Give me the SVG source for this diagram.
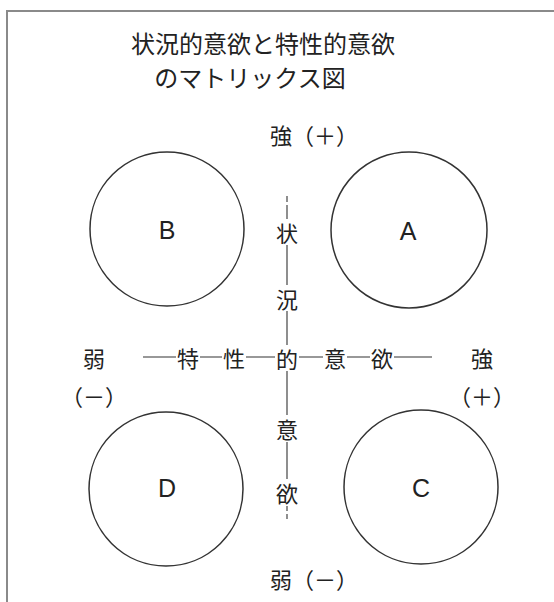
<svg xmlns="http://www.w3.org/2000/svg" width="554" height="602" viewBox="0 0 554 602">
<style>
.jp{font-family:"Noto Sans CJK JP","Noto Sans",sans-serif;fill:#222;text-anchor:middle;dominant-baseline:central}
.ttl{font-size:24px}
.ax{font-size:22px}
.lab{font-family:"Liberation Sans",Arial,sans-serif;font-size:25px;fill:#222;text-anchor:middle;dominant-baseline:central}
.circ{fill:none;stroke:#333;stroke-width:1.5}
.ln{stroke:#333;stroke-width:1.1;fill:none}
.frame{stroke:#8a8a8a;stroke-width:2;fill:none}
</style>
<rect width="554" height="602" fill="#fff"/>
<path class="frame" d="M7,602 V11 H554"/>
<g id="title">
<text class="jp ttl" x="263" y="42">状況的意欲と特性的意欲</text>
<text class="jp ttl" x="250" y="76">のマトリックス図</text>
</g>
<g id="labels">
<text class="jp ax" x="314" y="134">強（＋）</text>
<text class="jp ax" x="314" y="578">弱（－）</text>
<text class="jp ax" x="94" y="357">弱</text>
<text class="jp ax" x="94" y="395">（－）</text>
<text class="jp ax" x="482" y="357">強</text>
<text class="jp ax" x="482" y="395">（＋）</text>
</g>
<g id="node-B"><circle class="circ" cx="167" cy="229" r="77"/><text class="lab" x="167" y="230">B</text></g>
<g id="node-A"><circle class="circ" cx="409" cy="230" r="78"/><text class="lab" x="408" y="231">A</text></g>
<g id="node-D"><circle class="circ" cx="166" cy="489" r="77"/><text class="lab" x="167" y="488">D</text></g>
<g id="node-C"><circle class="circ" cx="421" cy="487" r="77"/><text class="lab" x="421" y="488">C</text></g>
<g id="connectors">
<path class="ln" d="M287,196 V202 M287,205 V219 M287,245 V285 M287,311 V345 M287,371 V415 M287,442 V479 M287,506 V511 M287,514 V519"/>
<path class="ln" d="M143,357 H176 M200,357 H222 M246,357 H275 M299,357 H323 M347,357 H370 M394,357 H432"/>
</g>
<g id="axis-text">
<text class="jp ax" x="287" y="232">状</text>
<text class="jp ax" x="287" y="298">況</text>
<text class="jp ax" x="287" y="358">的</text>
<text class="jp ax" x="287" y="428">意</text>
<text class="jp ax" x="287" y="492">欲</text>
<text class="jp ax" x="188" y="357">特</text>
<text class="jp ax" x="234" y="357">性</text>
<text class="jp ax" x="335" y="357">意</text>
<text class="jp ax" x="382" y="357">欲</text>
</g>
</svg>
